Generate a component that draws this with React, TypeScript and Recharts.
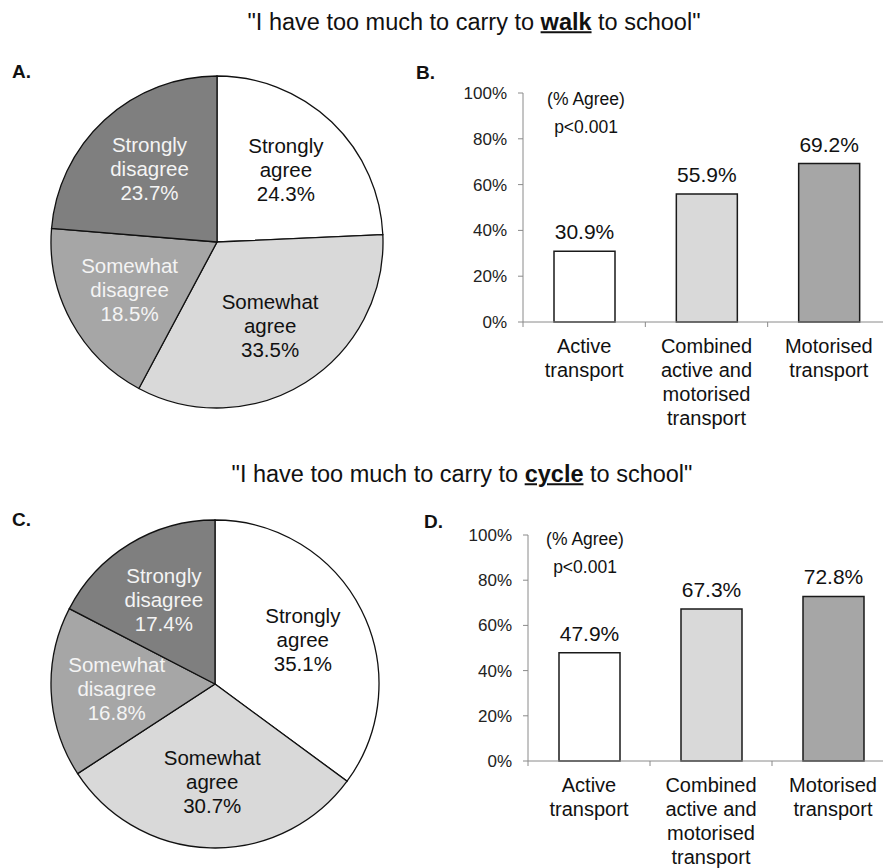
import React from "react";
import {
  PieChart,
  Pie,
  Cell,
  BarChart,
  Bar,
  XAxis,
  YAxis,
  LabelList,
} from "recharts";

// agreement split (pies A and C)
const AGREEMENT = ["Strongly agree", "Somewhat agree", "Somewhat disagree", "Strongly disagree"];
const WALK_SHARES = [24.3, 33.5, 18.5, 23.7];
const CYCLE_SHARES = [35.1, 30.7, 16.8, 17.4];
const SLICE_FILLS = ["#ffffff", "#d9d9d9", "#a6a6a6", "#7f7f7f"];
const SLICE_TEXT = ["#111111", "#111111", "#f4f4f4", "#f4f4f4"];

// % agree by transport mode (bars B and D)
const TRANSPORT = ["Active transport", "Combined active and motorised transport", "Motorised transport"];
const WALK_AGREE = [30.9, 55.9, 69.2];
const CYCLE_AGREE = [47.9, 67.3, 72.8];
const BAR_FILLS = ["#ffffff", "#d9d9d9", "#a6a6a6"];
const PCT_TICKS = [0, 20, 40, 60, 80, 100];

const FONT = '"Liberation Sans", Arial, Helvetica, sans-serif';
const AXIS_GREY = "#8a8a8a";
const RAD = Math.PI / 180;

function wrap(text: string, max = 11) {
  const lines: string[] = [];
  let cur = "";
  for (const w of text.split(" ")) {
    if (!cur) cur = w;
    else if ((cur + " " + w).length <= max) cur += " " + w;
    else {
      lines.push(cur);
      cur = w;
    }
  }
  if (cur) lines.push(cur);
  return lines;
}

function SliceLabel(props: any) {
  const { cx, cy, midAngle, outerRadius, index } = props;
  const r = outerRadius * 0.6;
  const x = cx + r * Math.cos(-midAngle * RAD);
  const y = cy + r * Math.sin(-midAngle * RAD);
  const value = props.payload?.value ?? props.value;
  const lines = [...AGREEMENT[index].split(" "), `${Number(value).toFixed(1)}%`];
  return (
    <text textAnchor="middle" fontSize={20.5} fill={SLICE_TEXT[index]} fontFamily={FONT}>
      {lines.map((l, i) => (
        <tspan key={i} x={x} y={y + (i - 1) * 24 + 7}>
          {l}
        </tspan>
      ))}
    </text>
  );
}

function AgreementPie({ shares, cx, cy, r }: { shares: number[]; cx: number; cy: number; r: number }) {
  const data = AGREEMENT.map((name, i) => ({ name, value: shares[i] }));
  return (
    <PieChart width={430} height={440}>
      <Pie
        data={data}
        dataKey="value"
        cx={cx}
        cy={cy}
        outerRadius={r}
        startAngle={90}
        endAngle={-270}
        stroke="#111"
        strokeWidth={1.3}
        label={SliceLabel}
        labelLine={false}
        isAnimationActive={false}
      >
        {data.map((d, i) => (
          <Cell key={d.name} fill={SLICE_FILLS[i]} />
        ))}
      </Pie>
    </PieChart>
  );
}

function CategoryTick(props: any) {
  const { x, y, payload, index, width } = props;
  const band = (width || 367) / TRANSPORT.length;
  const lines = wrap(String(payload.value));
  const bx = x - band / 2;
  return (
    <g>
      <line x1={bx} y1={y - 5} x2={bx} y2={y} stroke={AXIS_GREY} strokeWidth={1} />
      {index === TRANSPORT.length - 1 && (
        <line x1={x + band / 2} y1={y - 5} x2={x + band / 2} y2={y} stroke={AXIS_GREY} strokeWidth={1} />
      )}
      <text textAnchor="middle" fontSize={20} fill="#111" fontFamily={FONT}>
        {lines.map((l, i) => (
          <tspan key={i} x={x} y={y + 26 + i * 24}>
            {l}
          </tspan>
        ))}
      </text>
    </g>
  );
}

function AgreeBars({
  values,
  left,
  top,
  right,
  plotHeight,
}: {
  values: number[];
  left: number;
  top: number;
  right: number;
  plotHeight: number;
}) {
  const data = TRANSPORT.map((group, i) => ({ group, value: values[i] }));
  const height = 380;
  return (
    <BarChart width={470} height={height} data={data} margin={{ top, right, left, bottom: 0 }}>
      <YAxis
        type="number"
        domain={[0, 100]}
        ticks={PCT_TICKS}
        interval={0}
        tickFormatter={(v) => `${v}%`}
        width={60}
        axisLine={{ stroke: AXIS_GREY }}
        tickLine={{ stroke: AXIS_GREY }}
        tickSize={5}
        tickMargin={11}
        tick={{ fontSize: 17, fill: "#222", fontFamily: FONT }}
      />
      <XAxis
        dataKey="group"
        type="category"
        interval={0}
        height={height - top - plotHeight}
        axisLine={{ stroke: AXIS_GREY }}
        tickLine={false}
        tickSize={5}
        tickMargin={0}
        tick={<CategoryTick />}
      />
      <Bar dataKey="value" barSize={61} stroke="#1a1a1a" strokeWidth={1.5} isAnimationActive={false}>
        {data.map((d, i) => (
          <Cell key={d.group} fill={BAR_FILLS[i]} />
        ))}
        <LabelList
          dataKey="value"
          position="top"
          offset={12}
          fontSize={21}
          fill="#111"
          fontFamily={FONT}
          formatter={(v: any) => `${Number(v).toFixed(1)}%`}
        />
      </Bar>
    </BarChart>
  );
}

const abs = (left: number, top: number, extra: React.CSSProperties = {}): React.CSSProperties => ({
  position: "absolute",
  left,
  top,
  ...extra,
});

const centred = (x: number, y: number, fontSize: number): React.CSSProperties => ({
  position: "absolute",
  left: x,
  top: y,
  transform: "translate(-50%, -50%)",
  whiteSpace: "nowrap",
  fontSize,
  lineHeight: 1,
  color: "#111",
});

function Panel({ letter, x, y }: { letter: string; x: number; y: number }) {
  return (
    <div style={{ ...abs(x, y - 10), fontSize: 19, fontWeight: "bold", lineHeight: 1, color: "#111" }}>
      {letter}
    </div>
  );
}

const underline: React.CSSProperties = { textDecoration: "underline", textDecorationThickness: 2 };

export default function App() {
  return (
    <div
      style={{
        position: "absolute",
        left: 0,
        top: 0,
        width: 883,
        height: 868,
        overflow: "hidden",
        background: "#fff",
        fontFamily: FONT,
      }}
    >
      <div style={centred(474, 23, 23.5)}>
        "I have too much to carry to <b style={underline}>walk</b> to school"
      </div>
      <div style={centred(462, 475, 23.5)}>
        "I have too much to carry to <b style={underline}>cycle</b> to school"
      </div>

      <Panel letter="A." x={12} y={72} />
      <Panel letter="B." x={416} y={73} />
      <Panel letter="C." x={12} y={520} />
      <Panel letter="D." x={424} y={522} />

      <div style={abs(0, 0)}>
        <AgreementPie shares={WALK_SHARES} cx={212} cy={237} r={166} />
      </div>
      <div style={abs(0, 440)}>
        <AgreementPie shares={CYCLE_SHARES} cx={210} cy={239} r={164} />
      </div>

      <div style={abs(430, 60)}>
        <AgreeBars values={WALK_AGREE} left={33} top={33} right={10} plotHeight={229} />
      </div>
      <div style={abs(430, 500)}>
        <AgreeBars values={CYCLE_AGREE} left={38} top={35} right={6} plotHeight={226} />
      </div>

      <div style={centred(586, 100, 17.5)}>(% Agree)</div>
      <div style={centred(586, 128, 17.5)}>p&lt;0.001</div>
      <div style={centred(585, 540, 17.5)}>(% Agree)</div>
      <div style={centred(585, 568, 17.5)}>p&lt;0.001</div>
    </div>
  );
}
